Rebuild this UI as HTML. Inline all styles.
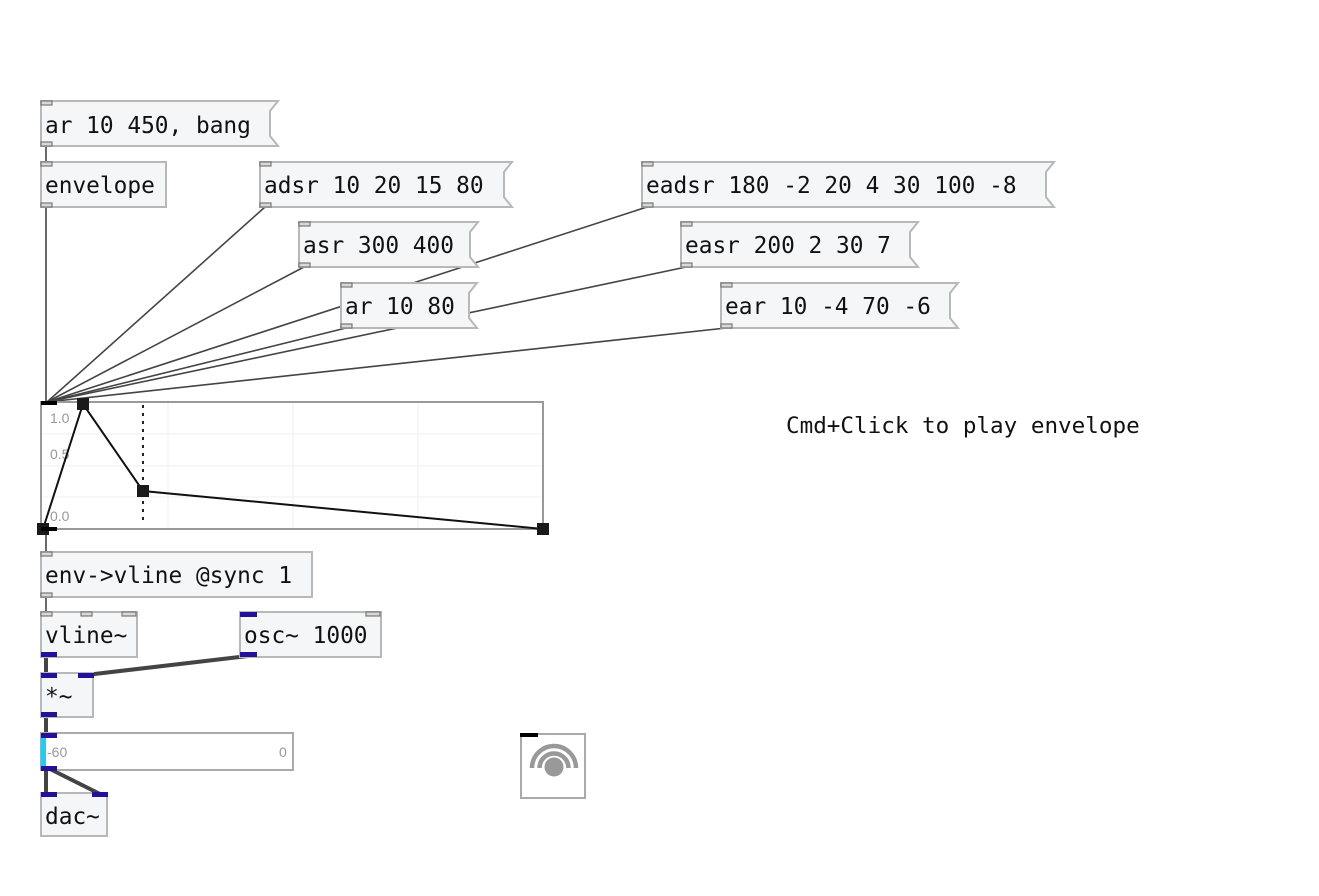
<!DOCTYPE html>
<html><head><meta charset="utf-8"><style>
html,body{margin:0;padding:0;background:#fff;}
svg{display:block;}
.t{font-family:"DejaVu Sans Mono","Liberation Mono",monospace;font-size:22.8px;fill:#111;}
.b{fill:#f5f6f8;stroke:#b8b8b8;stroke-width:2;}
.p{fill:#d8d8d8;stroke:#777;stroke-width:1.2;}
.s{fill:#22119a;}
.c{stroke:#444;stroke-width:1.6;fill:none;}
.w{stroke:#444;stroke-width:4;fill:none;}
.g{font-family:"Liberation Sans",sans-serif;font-size:14px;fill:#999;}
</style></head><body>
<svg width="1319" height="896" viewBox="0 0 1319 896" xmlns="http://www.w3.org/2000/svg">
<line class="c" x1="46" y1="146" x2="46" y2="162"/>
<line class="c" x1="46" y1="207" x2="46" y2="402"/>
<line class="c" x1="265" y1="207" x2="47" y2="402"/>
<line class="c" x1="304" y1="267" x2="47" y2="402"/>
<line class="c" x1="346" y1="328" x2="47" y2="402"/>
<line class="c" x1="647" y1="207" x2="47" y2="402"/>
<line class="c" x1="686" y1="267" x2="47" y2="402"/>
<line class="c" x1="726" y1="328" x2="47" y2="402"/>
<line class="c" x1="46" y1="529" x2="46" y2="552"/>
<line class="c" x1="46" y1="597" x2="46" y2="612"/>

<path class="b" d="M41 101H278L270 111V136L278 146H41Z"/>
<text class="t" x="45" y="133">ar 10 450, bang</text>
<rect class="p" x="41" y="101" width="11" height="4"/><rect class="p" x="41" y="142" width="11" height="4"/>

<rect class="b" x="41" y="162" width="125" height="45"/>
<text class="t" x="45" y="193">envelope</text>
<rect class="p" x="41" y="162" width="11" height="4"/><rect class="p" x="41" y="203" width="11" height="4"/>

<path class="b" d="M260 162H512L504 172V197L512 207H260Z"/>
<text class="t" x="264" y="193">adsr 10 20 15 80</text>
<rect class="p" x="260" y="162" width="11" height="4"/><rect class="p" x="260" y="203" width="11" height="4"/>

<path class="b" d="M642 162H1054L1046 172V197L1054 207H642Z"/>
<text class="t" x="646" y="193">eadsr 180 -2 20 4 30 100 -8</text>
<rect class="p" x="642" y="162" width="11" height="4"/><rect class="p" x="642" y="203" width="11" height="4"/>

<path class="b" d="M299 222H478L470 232V257L478 267H299Z"/>
<text class="t" x="303" y="253">asr 300 400</text>
<rect class="p" x="299" y="222" width="11" height="4"/><rect class="p" x="299" y="263" width="11" height="4"/>

<path class="b" d="M681 222H918L910 232V257L918 267H681Z"/>
<text class="t" x="685" y="253">easr 200 2 30 7</text>
<rect class="p" x="681" y="222" width="11" height="4"/><rect class="p" x="681" y="263" width="11" height="4"/>

<path class="b" d="M341 283H477L469 293V318L477 328H341Z"/>
<text class="t" x="345" y="314">ar 10 80</text>
<rect class="p" x="341" y="283" width="11" height="4"/><rect class="p" x="341" y="324" width="11" height="4"/>

<path class="b" d="M721 283H958L950 293V318L958 328H721Z"/>
<text class="t" x="725" y="314">ear 10 -4 70 -6</text>
<rect class="p" x="721" y="283" width="11" height="4"/><rect class="p" x="721" y="324" width="11" height="4"/>

<text x="786" y="433" style="font-family:'DejaVu Sans Mono','Liberation Mono',monospace;font-size:22.6px;fill:#111">Cmd+Click to play envelope</text>

<rect x="41" y="402" width="502" height="127" fill="#fff" stroke="#999" stroke-width="2"/>
<g stroke="#efefef" stroke-width="1">
<line x1="168" y1="403" x2="168" y2="528"/><line x1="293" y1="403" x2="293" y2="528"/><line x1="418" y1="403" x2="418" y2="528"/>
<line x1="42" y1="434" x2="542" y2="434"/><line x1="42" y1="466" x2="542" y2="466"/><line x1="42" y1="497" x2="542" y2="497"/>
</g>
<text class="g" x="50" y="423">1.0</text>
<text class="g" x="50" y="459">0.5</text>
<text class="g" x="50" y="521">0.0</text>
<line x1="143" y1="405" x2="143" y2="522" stroke="#222" stroke-width="2" stroke-dasharray="3,5"/>
<polyline points="43,529 83,404 143,491 543,529" fill="none" stroke="#111" stroke-width="2"/>
<rect x="37" y="523" width="12" height="12" fill="#1a1a1a"/>
<rect x="77" y="398" width="12" height="12" fill="#1a1a1a"/>
<rect x="137" y="485" width="12" height="12" fill="#1a1a1a"/>
<rect x="537" y="523" width="12" height="12" fill="#1a1a1a"/>
<rect x="41" y="401" width="16" height="4" fill="#000"/>
<rect x="41" y="527" width="16" height="4" fill="#000"/>

<rect class="b" x="41" y="552" width="271" height="45"/>
<text class="t" x="45" y="583">env-&gt;vline @sync 1</text>
<rect class="p" x="41" y="552" width="11" height="4"/><rect class="p" x="41" y="593" width="11" height="4"/>

<line class="w" x1="46" y1="657" x2="46" y2="673"/>
<line class="w" x1="248" y1="656" x2="86" y2="675"/>
<line class="w" x1="46" y1="717" x2="46" y2="733"/>
<line class="w" x1="46" y1="770" x2="46" y2="793"/>
<line class="w" x1="48" y1="768" x2="100" y2="794"/>

<rect class="b" x="41" y="612" width="96" height="45"/>
<text class="t" x="45" y="643">vline~</text>
<rect class="p" x="41" y="612" width="11" height="4"/><rect class="p" x="81" y="612" width="11" height="4"/><rect class="p" x="122" y="612" width="14" height="4"/>
<rect class="s" x="41" y="652" width="16" height="5"/>

<rect class="b" x="240" y="612" width="141" height="45"/>
<text class="t" x="244" y="643">osc~ 1000</text>
<rect class="s" x="240" y="612" width="17" height="5"/><rect class="p" x="366" y="612" width="14" height="4"/>
<rect class="s" x="240" y="652" width="17" height="5"/>

<rect class="b" x="41" y="673" width="52" height="44"/>
<text class="t" x="45" y="704">*~</text>
<rect class="s" x="41" y="673" width="16" height="5"/><rect class="s" x="78" y="673" width="16" height="5"/>
<rect class="s" x="41" y="712" width="16" height="5"/>

<rect x="41" y="733" width="252" height="37" fill="#fff" stroke="#aaa" stroke-width="2"/>
<rect x="41" y="738" width="5" height="28" fill="#22ccee"/>
<text class="g" x="47" y="757">-60</text>
<text class="g" x="279" y="757">0</text>
<rect class="s" x="41" y="733" width="16" height="5"/>
<rect class="s" x="41" y="766" width="16" height="5"/>

<rect class="b" x="41" y="793" width="66" height="43"/>
<text class="t" x="45" y="824">dac~</text>
<rect class="s" x="41" y="792" width="16" height="5"/><rect class="s" x="92" y="792" width="16" height="5"/>

<rect x="521" y="734" width="64" height="64" fill="#fff" stroke="#aaa" stroke-width="2"/>
<rect x="520" y="733" width="18" height="4" fill="#000"/>
<path d="M532 768A22 22 0 0 1 576 768" fill="none" stroke="#999" stroke-width="4.5"/>
<path d="M539.5 768A14.5 14.5 0 0 1 568.5 768" fill="none" stroke="#999" stroke-width="4.5"/>
<circle cx="554" cy="767" r="9.5" fill="#999"/>
</svg>
</body></html>
